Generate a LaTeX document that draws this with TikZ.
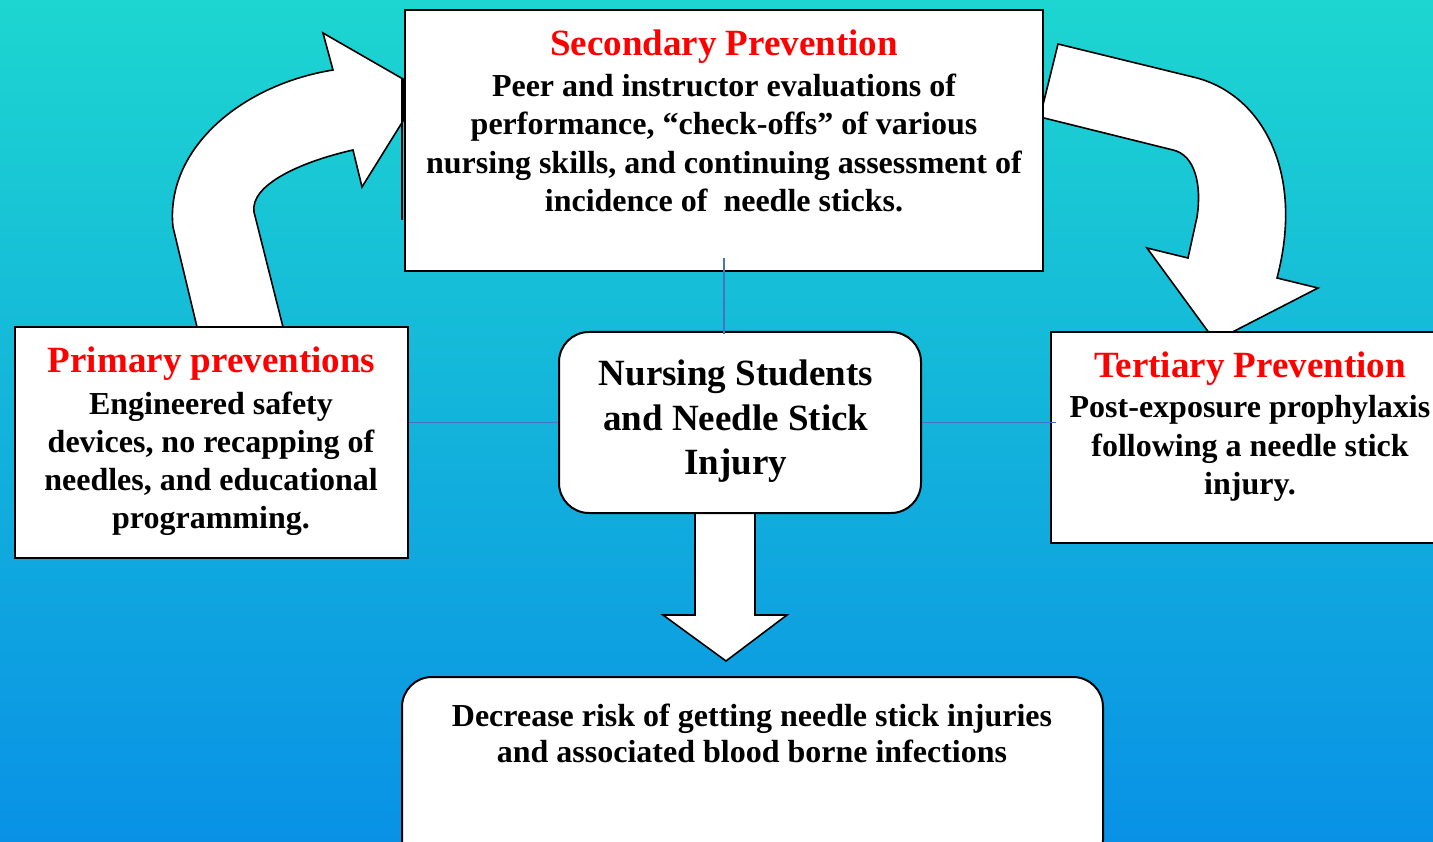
\documentclass[tikz,border=0pt]{standalone}
\usepackage{fontspec}
\setmainfont{Liberation Serif}
\definecolor{bgtop}{RGB}{29,214,208}
\definecolor{bgmid}{RGB}{27,196,224}
\definecolor{bgbot}{RGB}{9,145,230}
\definecolor{linkblue}{RGB}{68,114,196}
\begin{document}
\begin{tikzpicture}[x=1pt,y=-1pt,
  box/.style={draw=black, fill=white, line width=2pt, inner sep=0pt},
  rbox/.style={box, rounded corners=30pt},
  bigarrow/.style={draw=black, fill=white, line width=1.6pt, line join=miter},
  conn/.style={draw=linkblue, line width=1.5pt},
  head/.style={text=red, font=\fontsize{37}{44}\selectfont\bfseries, anchor=north, inner sep=0pt},
  body/.style={font=\fontsize{32}{38.5}\selectfont\bfseries, align=center, anchor=north, inner sep=0pt}]
\useasboundingbox (0,0) rectangle (1433,842);
\clip (0,0) rectangle (1433,842);
\shade[top color=bgtop, middle color=bgmid, bottom color=bgbot] (0,0) rectangle (1433,842);

% curved arrow left (primary -> secondary)
\draw[bigarrow] (197,327) -- (173,227)
  .. controls (165,150) and (240,85) .. (333,70)
  -- (323,33) -- (403,79) -- (403,121) -- (362,187) -- (353,150)
  .. controls (300,162) and (250,185) .. (254,212)
  -- (283,327) -- cycle;
\coordinate (lbarT) at (402,79);
\coordinate (lbarB) at (402,220);
\draw[black, line width=2pt] (lbarT) -- (lbarB);

% curved arrow right (secondary -> tertiary)
\draw[bigarrow] (1058,44) -- (1193,77)
  .. controls (1262,93) and (1305,172) .. (1277,278)
  -- (1318,288) -- (1215,341) -- (1147,248) -- (1188,258) -- (1197,217)
  .. controls (1202,185) and (1195,155) .. (1173,150)
  -- (1040,117) -- cycle;

% down arrow
\draw[bigarrow] (695,505) -- (695,615) -- (663,615) -- (726,661) -- (787,615) -- (755,615) -- (755,505) -- cycle;

% boxes
\node[box, minimum width=638pt, minimum height=261pt] (sec) at (724,140.5) {};
\node[box, minimum width=393pt, minimum height=231pt] (prim) at (211.5,442.5) {};
\node[box, minimum width=394pt, minimum height=211pt] (tert) at (1248,437.5) {};
\node[rbox, minimum width=362pt, minimum height=181pt] (core) at (740,422.5) {};
\node[rbox, minimum width=701pt, minimum height=193pt] (goal) at (752.5,773.5) {};

% texts
\node[head] (sech) at (724,30) {Secondary Prevention};
\node[body] (secb) at (724,73.3) {Peer and instructor evaluations of\\performance, “check-offs” of various\\nursing skills, and continuing assessment of\\incidence of\ \ needle sticks.};
\node[head] (primh) at (211.5,347) {Primary preventions};
\node[body, font=\fontsize{32}{38}\selectfont\bfseries] (primb) at (211,391.3) {Engineered safety\\devices, no recapping of\\needles, and educational\\programming.};
\node[head] (terth) at (1250,351.7) {Tertiary Prevention};
\node[body] (tertb) at (1250,395.3) {Post-exposure prophylaxis\\following a needle stick\\injury.};
\node[body, font=\fontsize{37}{44.5}\selectfont\bfseries] (coret) at (736,360) {Nursing Students\\and Needle Stick\\Injury};
\node[body, font=\fontsize{32}{36.7}\selectfont\bfseries] (goalt) at (752,703.3) {Decrease risk of getting needle stick injuries\\and associated blood borne infections};

% connectors
\draw[conn, shorten <=-14pt, shorten >=-3pt] (sec.south) -- (sec.south |- core.north);
\draw[conn] (prim.east |- core.west) -- (core.west);
\draw[conn, shorten >=-6pt] (core.east) -- (tert.west |- core.east);
\end{tikzpicture}
\end{document}
